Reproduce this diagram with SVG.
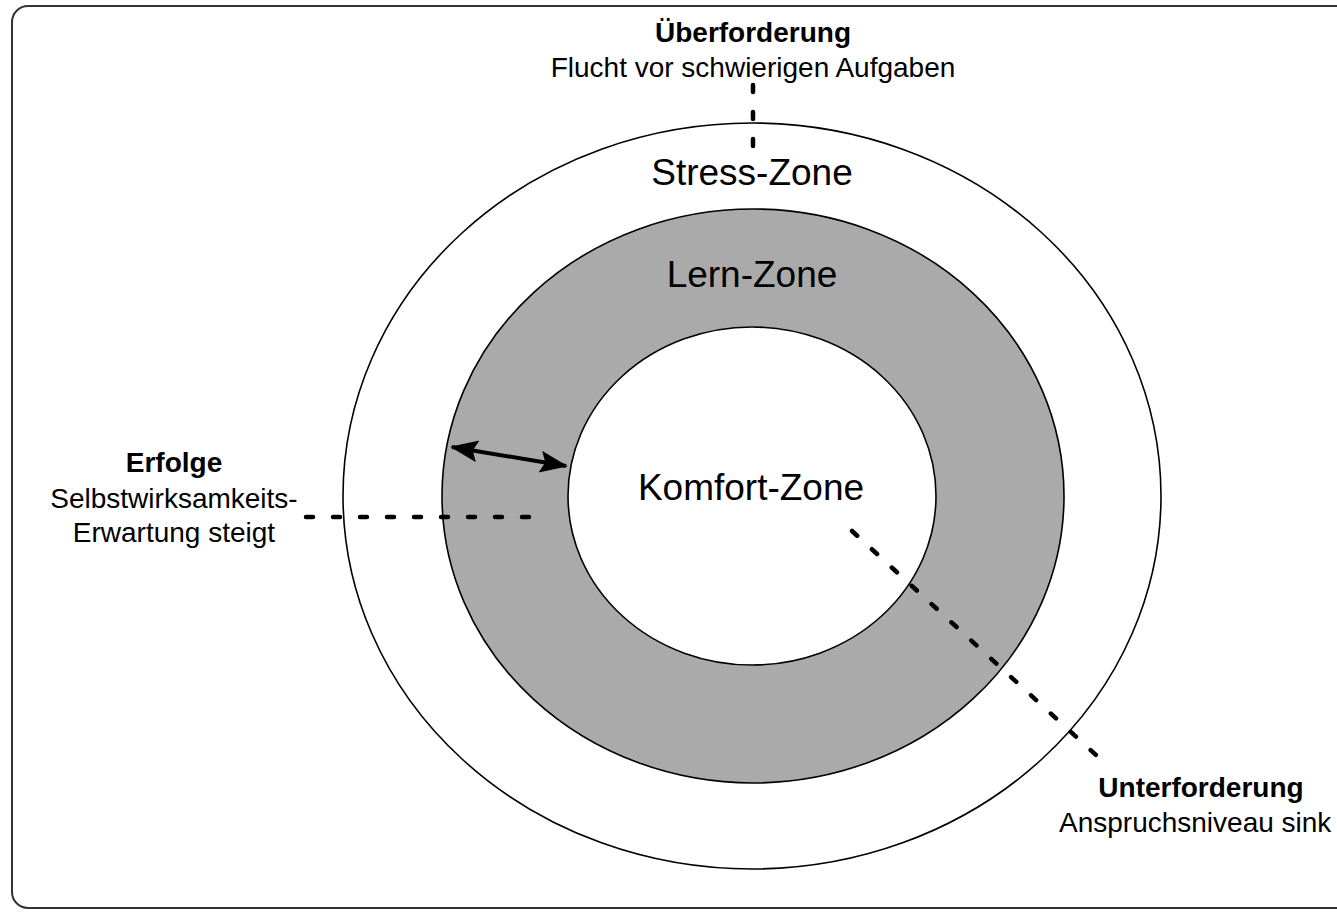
<svg xmlns="http://www.w3.org/2000/svg" width="1337" height="912" viewBox="0 0 1337 912">
<style>
.zone{stroke:#000;stroke-width:1.6}
.big{font-family:"Liberation Sans",Arial,sans-serif;font-size:37px;fill:#000;text-anchor:middle}
.lbl{font-family:"Liberation Sans",Arial,sans-serif;font-size:28px;fill:#000;text-anchor:middle}
.b{font-weight:bold}
.dash{fill:none;stroke:#000;stroke-width:4.5;stroke-linecap:round;stroke-dasharray:7 20}
</style>
<defs>
<marker id="ah" markerUnits="userSpaceOnUse" markerWidth="30" markerHeight="24" refX="26" refY="11" orient="auto-start-reverse">
<path d="M0,0 L28,11 L0,22 L5,11 z" fill="#000"/>
</marker>
</defs>
<rect x="0" y="0" width="1337" height="912" fill="#fff"/>
<rect id="frame" x="12" y="6" width="1345" height="902" rx="16" ry="16" fill="#fff" stroke="#333" stroke-width="2"/>
<g id="stress-zone">
<ellipse class="zone" cx="752" cy="496" rx="409" ry="373" fill="#fff"/>
<text class="big" x="752" y="185">Stress-Zone</text>
</g>
<g id="lern-zone">
<ellipse class="zone" cx="753" cy="496" rx="311" ry="287" fill="#aaa"/>
<text class="big" x="752" y="287">Lern-Zone</text>
</g>
<g id="komfort-zone">
<ellipse class="zone" cx="752" cy="496" rx="184" ry="169" fill="#fff"/>
<text class="big" x="751" y="500">Komfort-Zone</text>
</g>
<g id="ueberforderung">
<text class="lbl b" x="753" y="42">Überforderung</text>
<text class="lbl" x="753" y="77">Flucht vor schwierigen Aufgaben</text>
</g>
<g id="erfolge">
<text class="lbl b" x="174" y="472">Erfolge</text>
<text class="lbl" x="174" y="508">Selbstwirksamkeits-</text>
<text class="lbl" x="174" y="542">Erwartung steigt</text>
</g>
<g id="unterforderung">
<text class="lbl b" x="1201" y="797">Unterforderung</text>
<text class="lbl" x="1059" y="832" style="text-anchor:start">Anspruchsniveau sink</text>
</g>
<g id="connectors">
<line class="dash" x1="753" y1="85" x2="753" y2="146"/>
<line class="dash" x1="306" y1="517" x2="529" y2="517"/>
<line class="dash" x1="852" y1="531" x2="1096" y2="755"/>
<line x1="452" y1="447" x2="566" y2="466" stroke="#000" stroke-width="4" marker-start="url(#ah)" marker-end="url(#ah)"/>
</g>
</svg>
